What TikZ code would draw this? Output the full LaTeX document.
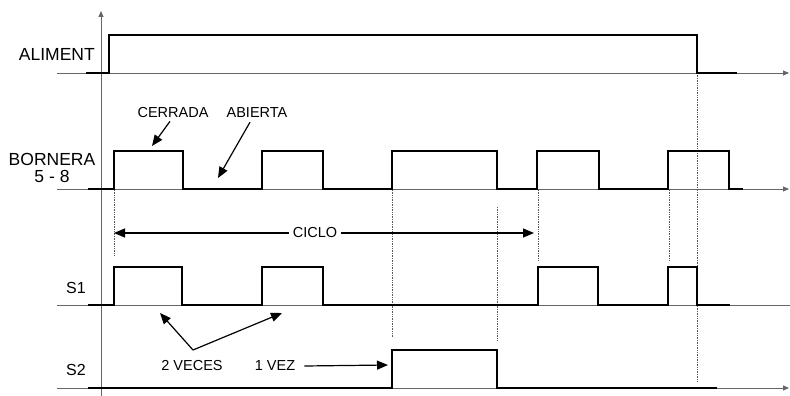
\documentclass[tikz,border=0pt]{standalone}
\usepackage{fontspec}
\setmainfont{Liberation Sans}
\usetikzlibrary{arrows.meta,positioning}

\tikzset{
  axisline/.style={gray!80!black,line width=0.9pt},
  signal/.style={black,line width=2.2pt,line join=miter},
  guide/.style={gray!70!black,densely dotted,line width=0.7pt},
  lbl/.style={font=\fontsize{14.5}{16}\selectfont,inner sep=1pt},
  biglbl/.style={font=\fontsize{17.5}{17}\selectfont,inner sep=1pt},
  pointer/.style={-{Triangle[length=11pt,width=9pt]},line width=1.2pt}
}

\begin{document}
\begin{tikzpicture}[x=1pt,y=-1pt]
\useasboundingbox (0,0) rectangle (790,396);
% axes
\draw[axisline,-{Triangle[length=6pt,width=5pt]}] (101,396) -- (101,11);
\draw[axisline,-{Triangle[length=6pt,width=5pt]}] (57,73) -- (789,73);
\draw[axisline,-{Triangle[length=6pt,width=5pt]}] (57,189) -- (789,189);
\draw[axisline] (57,305) -- (790,305);
\draw[axisline,-{Triangle[length=6pt,width=5pt]}] (57,388) -- (789,388);
% guides
\draw[guide] (114,190) -- (114,255);
\draw[guide] (392,190) -- (392,337);
\draw[guide] (497,207) -- (497,340);
\draw[guide] (538,190) -- (538,260);
\draw[guide] (669,190) -- (669,260);
\draw[guide] (697,73) -- (697,382);
% signals
\draw[signal] (86,73) -| (109,35) -| (697,73) -- (737,73);
\draw[signal] (88,189) -| (114,151) -| (183,189) -| (262,151) -| (323,189)
  -| (392,151) -| (497,189) -| (537,151) -| (599,189) -| (668,151) -| (729,189) -- (743,189);
\draw[signal] (88,305) -| (114,267) -| (182,305) -| (262,267) -| (323,305)
  -| (538,267) -| (598,305) -| (668,267) -| (697,305) -- (730,305);
\draw[signal] (88,388) -| (392,350) -| (497,388) -- (717,388);
% labels
\node[biglbl,anchor=east] (aliment) at (96,54) {ALIMENT};
\node[biglbl,align=center] (bornera) at (52,168) {BORNERA\\5 - 8};
\node[lbl,font=\fontsize{16}{16}\selectfont] (s1) at (76,288) {S1};
\node[lbl,font=\fontsize{16}{16}\selectfont] (s2) at (76,370) {S2};
\node[lbl] (cerrada) at (173,113) {CERRADA};
\node[lbl] (abierta) at (257,113) {ABIERTA};
\node[lbl] (veces) at (192,366) {2 VECES};
\node[lbl] (vez) at (275,366) {1 VEZ};
\node[lbl,fill=white,inner sep=4pt] (ciclo) at (315,233) {CICLO};
% pointers
\coordinate (cerradatip) at (152,146);
\coordinate (abiertatip) at (218,178);
\coordinate (vecesA) at (160,313);
\coordinate (vecesB) at (282,313);
\coordinate (veztip) at (388,365);
\coordinate (cicloL) at (114,233);
\coordinate (cicloR) at (534,233);
\draw[pointer] (cerrada.south) ++(-3,2) -- (cerradatip);
\draw[pointer] (abierta.south) ++(-7,3) -- (abiertatip);
\draw[pointer] (193,350) -- (vecesA);
\draw[pointer] (193,350) -- (vecesB);
\draw[pointer] (vez.east) ++(8,0) -- (veztip);
\draw[pointer] (ciclo.west) -- (cicloL);
\draw[pointer] (ciclo.east) -- (cicloR);
\end{tikzpicture}
\end{document}
